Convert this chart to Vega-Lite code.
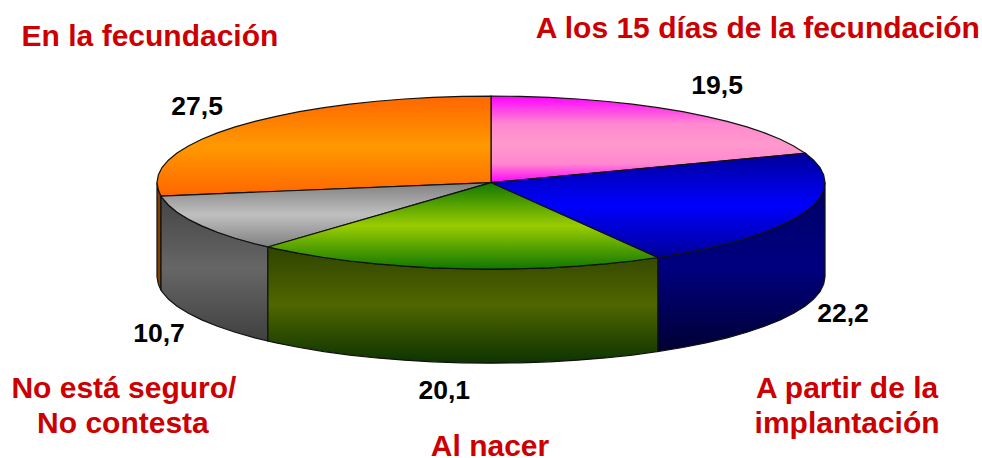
{"$schema":"https://vega.github.io/schema/vega-lite/v6.json","width":982,"height":458,"autosize":{"type":"none"},"padding":0,"background":"white","view":{"stroke":null},
"datasets":{
"slices":[
{"s":"pink","i":0,"u":0,"v":0},{"s":"pink","i":1,"u":0.941,"v":0.339},{"s":"pink","i":2,"u":0.906,"v":0.423},{"s":"pink","i":3,"u":0.866,"v":0.5},{"s":"pink","i":4,"u":0.819,"v":0.574},{"s":"pink","i":5,"u":0.766,"v":0.643},{"s":"pink","i":6,"u":0.707,"v":0.707},{"s":"pink","i":7,"u":0.643,"v":0.766},{"s":"pink","i":8,"u":0.574,"v":0.819},{"s":"pink","i":9,"u":0.5,"v":0.866},{"s":"pink","i":10,"u":0.423,"v":0.906},{"s":"pink","i":11,"u":0.342,"v":0.94},{"s":"pink","i":12,"u":0.259,"v":0.966},{"s":"pink","i":13,"u":0.174,"v":0.985},{"s":"pink","i":14,"u":0.087,"v":0.996},{"s":"pink","i":15,"u":0,"v":1},{"s":"pink","i":16,"u":0,"v":0},
{"s":"orange","i":0,"u":0,"v":0},{"s":"orange","i":1,"u":0,"v":1},{"s":"orange","i":2,"u":-0.087,"v":0.996},{"s":"orange","i":3,"u":-0.174,"v":0.985},{"s":"orange","i":4,"u":-0.259,"v":0.966},{"s":"orange","i":5,"u":-0.342,"v":0.94},{"s":"orange","i":6,"u":-0.423,"v":0.906},{"s":"orange","i":7,"u":-0.5,"v":0.866},{"s":"orange","i":8,"u":-0.574,"v":0.819},{"s":"orange","i":9,"u":-0.643,"v":0.766},{"s":"orange","i":10,"u":-0.707,"v":0.707},{"s":"orange","i":11,"u":-0.766,"v":0.643},{"s":"orange","i":12,"u":-0.819,"v":0.574},{"s":"orange","i":13,"u":-0.866,"v":0.5},{"s":"orange","i":14,"u":-0.906,"v":0.423},{"s":"orange","i":15,"u":-0.94,"v":0.342},{"s":"orange","i":16,"u":-0.966,"v":0.259},{"s":"orange","i":17,"u":-0.985,"v":0.174},{"s":"orange","i":18,"u":-0.996,"v":0.087},{"s":"orange","i":19,"u":-1,"v":0},{"s":"orange","i":20,"u":-0.996,"v":-0.087},{"s":"orange","i":21,"u":-0.988,"v":-0.156},{"s":"orange","i":22,"u":0,"v":0},
{"s":"grey","i":0,"u":0,"v":0},{"s":"grey","i":1,"u":-0.988,"v":-0.156},{"s":"grey","i":2,"u":-0.985,"v":-0.174},{"s":"grey","i":3,"u":-0.966,"v":-0.259},{"s":"grey","i":4,"u":-0.94,"v":-0.342},{"s":"grey","i":5,"u":-0.906,"v":-0.423},{"s":"grey","i":6,"u":-0.866,"v":-0.5},{"s":"grey","i":7,"u":-0.819,"v":-0.574},{"s":"grey","i":8,"u":-0.766,"v":-0.643},{"s":"grey","i":9,"u":-0.707,"v":-0.707},{"s":"grey","i":10,"u":-0.668,"v":-0.744},{"s":"grey","i":11,"u":0,"v":0},
{"s":"green","i":0,"u":0,"v":0},{"s":"green","i":1,"u":-0.668,"v":-0.744},{"s":"green","i":2,"u":-0.643,"v":-0.766},{"s":"green","i":3,"u":-0.574,"v":-0.819},{"s":"green","i":4,"u":-0.5,"v":-0.866},{"s":"green","i":5,"u":-0.423,"v":-0.906},{"s":"green","i":6,"u":-0.342,"v":-0.94},{"s":"green","i":7,"u":-0.259,"v":-0.966},{"s":"green","i":8,"u":-0.174,"v":-0.985},{"s":"green","i":9,"u":-0.087,"v":-0.996},{"s":"green","i":10,"u":0,"v":-1},{"s":"green","i":11,"u":0.087,"v":-0.996},{"s":"green","i":12,"u":0.174,"v":-0.985},{"s":"green","i":13,"u":0.259,"v":-0.966},{"s":"green","i":14,"u":0.342,"v":-0.94},{"s":"green","i":15,"u":0.423,"v":-0.906},{"s":"green","i":16,"u":0.5,"v":-0.866},{"s":"green","i":17,"u":0,"v":0},
{"s":"blue","i":0,"u":0,"v":0},{"s":"blue","i":1,"u":0.5,"v":-0.866},{"s":"blue","i":2,"u":0.574,"v":-0.819},{"s":"blue","i":3,"u":0.643,"v":-0.766},{"s":"blue","i":4,"u":0.707,"v":-0.707},{"s":"blue","i":5,"u":0.766,"v":-0.643},{"s":"blue","i":6,"u":0.819,"v":-0.574},{"s":"blue","i":7,"u":0.866,"v":-0.5},{"s":"blue","i":8,"u":0.906,"v":-0.423},{"s":"blue","i":9,"u":0.94,"v":-0.342},{"s":"blue","i":10,"u":0.966,"v":-0.259},{"s":"blue","i":11,"u":0.985,"v":-0.174},{"s":"blue","i":12,"u":0.996,"v":-0.087},{"s":"blue","i":13,"u":1,"v":0},{"s":"blue","i":14,"u":0.996,"v":0.087},{"s":"blue","i":15,"u":0.985,"v":0.174},{"s":"blue","i":16,"u":0.966,"v":0.259},{"s":"blue","i":17,"u":0.941,"v":0.339},{"s":"blue","i":18,"u":0,"v":0},
{"s":"orangeRim","i":0,"u":-1,"v":0},{"s":"orangeRim","i":1,"u":-0.996,"v":-0.087},{"s":"orangeRim","i":2,"u":-0.988,"v":-0.156},{"s":"orangeRim","i":3,"u":-0.988,"v":-1.243},{"s":"orangeRim","i":4,"u":-0.996,"v":-1.174},{"s":"orangeRim","i":5,"u":-1,"v":-1.087},{"s":"orangeRim","i":6,"u":-1,"v":0},
{"s":"greyRim","i":0,"u":-0.988,"v":-0.156},{"s":"greyRim","i":1,"u":-0.985,"v":-0.174},{"s":"greyRim","i":2,"u":-0.966,"v":-0.259},{"s":"greyRim","i":3,"u":-0.94,"v":-0.342},{"s":"greyRim","i":4,"u":-0.906,"v":-0.423},{"s":"greyRim","i":5,"u":-0.866,"v":-0.5},{"s":"greyRim","i":6,"u":-0.819,"v":-0.574},{"s":"greyRim","i":7,"u":-0.766,"v":-0.643},{"s":"greyRim","i":8,"u":-0.707,"v":-0.707},{"s":"greyRim","i":9,"u":-0.668,"v":-0.744},{"s":"greyRim","i":10,"u":-0.668,"v":-1.831},{"s":"greyRim","i":11,"u":-0.707,"v":-1.794},{"s":"greyRim","i":12,"u":-0.766,"v":-1.73},{"s":"greyRim","i":13,"u":-0.819,"v":-1.661},{"s":"greyRim","i":14,"u":-0.866,"v":-1.587},{"s":"greyRim","i":15,"u":-0.906,"v":-1.51},{"s":"greyRim","i":16,"u":-0.94,"v":-1.429},{"s":"greyRim","i":17,"u":-0.966,"v":-1.346},{"s":"greyRim","i":18,"u":-0.985,"v":-1.261},{"s":"greyRim","i":19,"u":-0.988,"v":-1.243},{"s":"greyRim","i":20,"u":-0.988,"v":-0.156},
{"s":"greenRim","i":0,"u":-0.668,"v":-0.744},{"s":"greenRim","i":1,"u":-0.643,"v":-0.766},{"s":"greenRim","i":2,"u":-0.574,"v":-0.819},{"s":"greenRim","i":3,"u":-0.5,"v":-0.866},{"s":"greenRim","i":4,"u":-0.423,"v":-0.906},{"s":"greenRim","i":5,"u":-0.342,"v":-0.94},{"s":"greenRim","i":6,"u":-0.259,"v":-0.966},{"s":"greenRim","i":7,"u":-0.174,"v":-0.985},{"s":"greenRim","i":8,"u":-0.087,"v":-0.996},{"s":"greenRim","i":9,"u":0,"v":-1},{"s":"greenRim","i":10,"u":0.087,"v":-0.996},{"s":"greenRim","i":11,"u":0.174,"v":-0.985},{"s":"greenRim","i":12,"u":0.259,"v":-0.966},{"s":"greenRim","i":13,"u":0.342,"v":-0.94},{"s":"greenRim","i":14,"u":0.423,"v":-0.906},{"s":"greenRim","i":15,"u":0.5,"v":-0.866},{"s":"greenRim","i":16,"u":0.5,"v":-1.953},{"s":"greenRim","i":17,"u":0.423,"v":-1.993},{"s":"greenRim","i":18,"u":0.342,"v":-2.027},{"s":"greenRim","i":19,"u":0.259,"v":-2.053},{"s":"greenRim","i":20,"u":0.174,"v":-2.072},{"s":"greenRim","i":21,"u":0.087,"v":-2.083},{"s":"greenRim","i":22,"u":0,"v":-2.087},{"s":"greenRim","i":23,"u":-0.087,"v":-2.083},{"s":"greenRim","i":24,"u":-0.174,"v":-2.072},{"s":"greenRim","i":25,"u":-0.259,"v":-2.053},{"s":"greenRim","i":26,"u":-0.342,"v":-2.027},{"s":"greenRim","i":27,"u":-0.423,"v":-1.993},{"s":"greenRim","i":28,"u":-0.5,"v":-1.953},{"s":"greenRim","i":29,"u":-0.574,"v":-1.906},{"s":"greenRim","i":30,"u":-0.643,"v":-1.853},{"s":"greenRim","i":31,"u":-0.668,"v":-1.831},{"s":"greenRim","i":32,"u":-0.668,"v":-0.744},
{"s":"blueRim","i":0,"u":0.5,"v":-0.866},{"s":"blueRim","i":1,"u":0.574,"v":-0.819},{"s":"blueRim","i":2,"u":0.643,"v":-0.766},{"s":"blueRim","i":3,"u":0.707,"v":-0.707},{"s":"blueRim","i":4,"u":0.766,"v":-0.643},{"s":"blueRim","i":5,"u":0.819,"v":-0.574},{"s":"blueRim","i":6,"u":0.866,"v":-0.5},{"s":"blueRim","i":7,"u":0.906,"v":-0.423},{"s":"blueRim","i":8,"u":0.94,"v":-0.342},{"s":"blueRim","i":9,"u":0.966,"v":-0.259},{"s":"blueRim","i":10,"u":0.985,"v":-0.174},{"s":"blueRim","i":11,"u":0.996,"v":-0.087},{"s":"blueRim","i":12,"u":1,"v":0},{"s":"blueRim","i":13,"u":1,"v":-1.087},{"s":"blueRim","i":14,"u":0.996,"v":-1.174},{"s":"blueRim","i":15,"u":0.985,"v":-1.261},{"s":"blueRim","i":16,"u":0.966,"v":-1.346},{"s":"blueRim","i":17,"u":0.94,"v":-1.429},{"s":"blueRim","i":18,"u":0.906,"v":-1.51},{"s":"blueRim","i":19,"u":0.866,"v":-1.587},{"s":"blueRim","i":20,"u":0.819,"v":-1.661},{"s":"blueRim","i":21,"u":0.766,"v":-1.73},{"s":"blueRim","i":22,"u":0.707,"v":-1.794},{"s":"blueRim","i":23,"u":0.643,"v":-1.853},{"s":"blueRim","i":24,"u":0.574,"v":-1.906},{"s":"blueRim","i":25,"u":0.5,"v":-1.953},{"s":"blueRim","i":26,"u":0.5,"v":-0.866}
],
"values":[
{"t":"19,5","u":0.677,"v":1.127},{"t":"27,5","u":-0.88,"v":0.884},{"t":"22,2","u":1.054,"v":-1.509},{"t":"10,7","u":-0.994,"v":-1.74},{"t":"20,1","u":-0.14,"v":-2.399}
],
"names":[
{"t":"En la fecundación","u":-1.021,"v":1.694},{"t":"A los 15 días de la fecundación","u":0.799,"v":1.786},{"t":"No está seguro/","u":-1.099,"v":-2.376},{"t":"No contesta","u":-1.102,"v":-2.78},{"t":"A partir de la","u":1.066,"v":-2.376},{"t":"implantación","u":1.066,"v":-2.78},{"t":"Al nacer","u":-0.003,"v":-3.046}
]},
"encoding":{
"x":{"field":"u","type":"quantitative","axis":null,"scale":{"domain":[-1.47,1.47],"nice":false,"zero":false}},
"y":{"field":"v","type":"quantitative","axis":null,"scale":{"domain":[-3.183,2.11],"nice":false,"zero":false}}
},
"layer":[
{"data":{"name":"slices"},"transform":[{"filter":"datum.s==='orangeRim'"}],"mark":{"type":"line","fill":"#804000","stroke":"#111","strokeWidth":1.2},"encoding":{"order":{"field":"i","type":"quantitative"}}},
{"data":{"name":"slices"},"transform":[{"filter":"datum.s==='greyRim'"}],"mark":{"type":"line","fill":{"gradient":"linear","x1":0,"y1":0,"x2":0,"y2":1,"stops":[{"offset":0,"color":"#444444"},{"offset":0.5,"color":"#666666"},{"offset":1,"color":"#404040"}]},"stroke":"#111","strokeWidth":1.2},"encoding":{"order":{"field":"i","type":"quantitative"}}},
{"data":{"name":"slices"},"transform":[{"filter":"datum.s==='greenRim'"}],"mark":{"type":"line","fill":{"gradient":"linear","x1":0,"y1":0,"x2":0,"y2":1,"stops":[{"offset":0,"color":"#2f4400"},{"offset":0.5,"color":"#506600"},{"offset":1,"color":"#0d3300"}]},"stroke":"#111","strokeWidth":1.2},"encoding":{"order":{"field":"i","type":"quantitative"}}},
{"data":{"name":"slices"},"transform":[{"filter":"datum.s==='blueRim'"}],"mark":{"type":"line","fill":{"gradient":"linear","x1":0,"y1":0,"x2":0,"y2":1,"stops":[{"offset":0,"color":"#000066"},{"offset":0.5,"color":"#000080"},{"offset":1,"color":"#000033"}]},"stroke":"#111","strokeWidth":1.2},"encoding":{"order":{"field":"i","type":"quantitative"}}},
{"data":{"name":"slices"},"transform":[{"filter":"datum.s==='pink'"}],"mark":{"type":"line","fill":{"gradient":"linear","x1":0,"y1":0,"x2":0,"y2":1,"stops":[{"offset":0,"color":"#ff00ff"},{"offset":0.32,"color":"#ff88d0"},{"offset":0.55,"color":"#ff99cc"},{"offset":0.78,"color":"#ff88d0"},{"offset":1,"color":"#ff00ff"}]},"stroke":"#111","strokeWidth":1.2},"encoding":{"order":{"field":"i","type":"quantitative"}}},
{"data":{"name":"slices"},"transform":[{"filter":"datum.s==='orange'"}],"mark":{"type":"line","fill":{"gradient":"linear","x1":0,"y1":0,"x2":0,"y2":1,"stops":[{"offset":0,"color":"#ff6600"},{"offset":0.5,"color":"#ff9900"},{"offset":1,"color":"#ff6600"}]},"stroke":"#111","strokeWidth":1.2},"encoding":{"order":{"field":"i","type":"quantitative"}}},
{"data":{"name":"slices"},"transform":[{"filter":"datum.s==='grey'"}],"mark":{"type":"line","fill":{"gradient":"linear","x1":0,"y1":0,"x2":0,"y2":1,"stops":[{"offset":0,"color":"#808080"},{"offset":0.5,"color":"#c0c0c0"},{"offset":1,"color":"#808080"}]},"stroke":"#111","strokeWidth":1.2},"encoding":{"order":{"field":"i","type":"quantitative"}}},
{"data":{"name":"slices"},"transform":[{"filter":"datum.s==='green'"}],"mark":{"type":"line","fill":{"gradient":"linear","x1":0,"y1":0,"x2":0,"y2":1,"stops":[{"offset":0,"color":"#117700"},{"offset":0.5,"color":"#99cc00"},{"offset":1,"color":"#117700"}]},"stroke":"#111","strokeWidth":1.2},"encoding":{"order":{"field":"i","type":"quantitative"}}},
{"data":{"name":"slices"},"transform":[{"filter":"datum.s==='blue'"}],"mark":{"type":"line","fill":{"gradient":"linear","x1":0,"y1":0,"x2":0,"y2":1,"stops":[{"offset":0,"color":"#000099"},{"offset":0.5,"color":"#0000ff"},{"offset":1,"color":"#000099"}]},"stroke":"#111","strokeWidth":1.2},"encoding":{"order":{"field":"i","type":"quantitative"}}},
{"data":{"name":"values"},"mark":{"type":"text","font":"Liberation Sans","fontWeight":"bold","fontSize":26.5,"fill":"#000000","align":"center","baseline":"middle","dy":1},"encoding":{"text":{"field":"t","type":"nominal"}}},
{"data":{"name":"names"},"mark":{"type":"text","font":"Liberation Sans","fontWeight":"bold","fontSize":30,"fill":"#cc0000","align":"center","baseline":"middle","dy":1},"encoding":{"text":{"field":"t","type":"nominal"}}}
]}
